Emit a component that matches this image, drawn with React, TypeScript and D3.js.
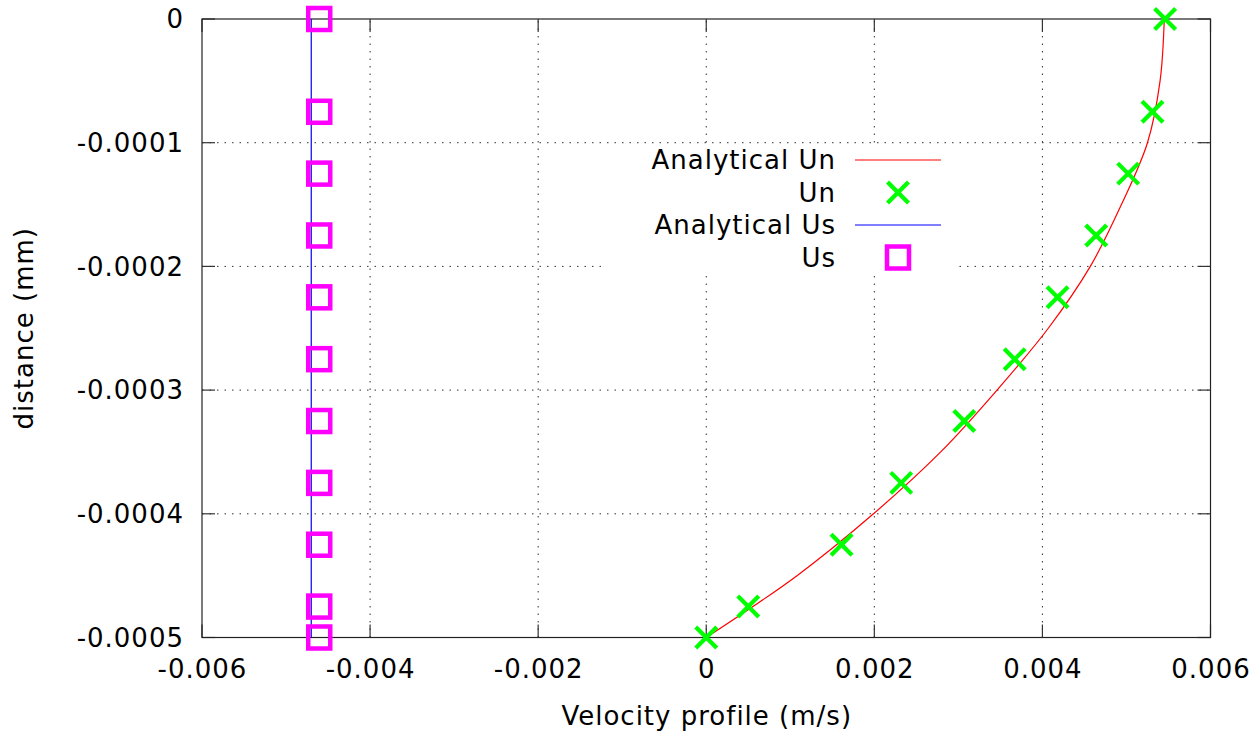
import React from "react";
import * as d3 from "d3";

// ---- data ----
const xTicks = [-0.006, -0.004, -0.002, 0, 0.002, 0.004, 0.006];
const xTickLabels = ["-0.006", "-0.004", "-0.002", "0", "0.002", "0.004", "0.006"];
const yTicks = [0, -0.0001, -0.0002, -0.0003, -0.0004, -0.0005];
const yTickLabels = ["0", "-0.0001", "-0.0002", "-0.0003", "-0.0004", "-0.0005"];

// Analytical Un curve (distance, velocity)
const anUnY = [0, -0.00005, -0.0001, -0.00015, -0.0002, -0.00025, -0.0003, -0.00035, -0.0004, -0.00045, -0.0005];
const anUnX = [0.00545, 0.0054, 0.00525, 0.00494, 0.00457, 0.00407, 0.00346, 0.00279, 0.00199, 0.00108, 0];

// Un points
const unY = [0, -0.000075, -0.000125, -0.000175, -0.000225, -0.000275, -0.000325, -0.000375, -0.000425, -0.000475, -0.0005];
const unX = [0.00546, 0.00531, 0.00502, 0.00464, 0.00418, 0.00367, 0.00307, 0.00232, 0.00161, 0.0005, 0];

// Analytical Us line
const anUsY = [0, -0.0005];
const anUsX = [-0.0047, -0.0047];

// Us points
const usY = [0, -0.000075, -0.000125, -0.000175, -0.000225, -0.000275, -0.000325, -0.000375, -0.000425, -0.000475, -0.0005];
const usX = [-0.004605, -0.004605, -0.004605, -0.004605, -0.004605, -0.004605, -0.004605, -0.004605, -0.004605, -0.004605, -0.004605];

const legendLabels = ["Analytical Un", "Un", "Analytical Us", "Us"];

const W = 1255;
const H = 734;
const left = 202;
const right = 1210.5;
const top = 19;
const bottom = 637.5;
const FONT = "'DejaVu Sans', sans-serif";
const FS = 26;
const LS = 1;

export default function App() {
  const x = d3.scaleLinear().domain([-0.006, 0.006]).range([left, right]);
  const y = d3.scaleLinear().domain([-0.0005, 0]).range([bottom, top]);

  const line = d3
    .line<number>()
    .x((_, i) => x(anUnX[i]))
    .y((_, i) => y(anUnY[i]))
    .curve(d3.curveCatmullRom.alpha(0.5));
  const usLine = d3
    .line<number>()
    .x((_, i) => x(anUsX[i]))
    .y((_, i) => y(anUsY[i]));

  const tick = 13;
  const grid = "#333";
  const dash = "1.5,6";

  // legend
  const legTextX = 836;
  const legSymX0 = 855;
  const legSymX1 = 941;
  const legSymC = 898;
  const legRowY = [160, 192.5, 225, 257.5];

  const cross = (cx: number, cy: number, k: string | number) => {
    const a = 10.5;
    return (
      <g key={k} stroke="#00ff00" strokeWidth={4.2}>
        <line x1={cx - a} y1={cy - a} x2={cx + a} y2={cy + a} />
        <line x1={cx - a} y1={cy + a} x2={cx + a} y2={cy - a} />
      </g>
    );
  };
  const square = (cx: number, cy: number, k: string | number) => {
    const s = 11;
    return (
      <rect key={k} x={cx - s} y={cy - s} width={2 * s} height={2 * s} fill="none" stroke="#ff00ff" strokeWidth={4.5} />
    );
  };

  return (
    <svg width={W} height={H} style={{ position: "absolute", left: 0, top: 0, background: "#fff" }} fontFamily={FONT}>
      <rect x={0} y={0} width={W} height={H} fill="#fff" />
      {/* grid */}
      <g stroke={grid} strokeWidth={1} strokeDasharray={dash}>
        {xTicks.slice(1, -1).map((t, i) => (
          <line key={"gx" + i} x1={x(t)} x2={x(t)} y1={bottom} y2={top} />
        ))}
        {yTicks.slice(1, -1).map((t, i) => (
          <line key={"gy" + i} x1={left} x2={right} y1={y(t)} y2={y(t)} />
        ))}
      </g>
      {/* legend background */}
      <rect x={605} y={145} width={350} height={127} fill="#fff" />
      {/* ticks */}
      <g stroke="#333" strokeWidth={1.2}>
        {xTicks.map((t, i) => (
          <g key={"tx" + i}>
            <line x1={x(t)} x2={x(t)} y1={bottom} y2={bottom - tick} />
            <line x1={x(t)} x2={x(t)} y1={top} y2={top + tick} />
          </g>
        ))}
        {yTicks.map((t, i) => (
          <g key={"ty" + i}>
            <line x1={left} x2={left + tick} y1={y(t)} y2={y(t)} />
            <line x1={right} x2={right - tick} y1={y(t)} y2={y(t)} />
          </g>
        ))}
      </g>
      {/* frame */}
      <rect x={left} y={top} width={right - left} height={bottom - top} fill="none" stroke="#222" strokeWidth={1.2} />
      {/* tick labels */}
      <g fontSize={FS} fill="#000" letterSpacing={LS}>
        {xTicks.map((t, i) => (
          <text key={"lx" + i} x={x(t) + LS / 2} y={678} textAnchor="middle">
            {xTickLabels[i]}
          </text>
        ))}
        {yTicks.map((t, i) => (
          <text key={"ly" + i} x={183 + LS} y={y(t)} dy="0.36em" textAnchor="end">
            {yTickLabels[i]}
          </text>
        ))}
      </g>
      {/* axis titles */}
      <text x={(left + right) / 2 + LS / 2} y={725} fontSize={FS} textAnchor="middle" letterSpacing={LS}>
        Velocity profile (m/s)
      </text>
      <text transform={`translate(33,${(top + bottom) / 2}) rotate(-90)`} fontSize={FS} textAnchor="middle" letterSpacing={LS}>
        distance (mm)
      </text>
      {/* data */}
      <path d={line(anUnX) || ""} fill="none" stroke="#ff0000" strokeWidth={1.2} />
      <path d={usLine(anUsX) || ""} fill="none" stroke="#0000ff" strokeWidth={1.2} />
      {unX.map((v, i) => cross(x(v), y(unY[i]), "u" + i))}
      {usX.map((v, i) => square(x(v), y(usY[i]), "s" + i))}
      {/* legend */}
      <g fontSize={FS} letterSpacing={LS}>
        {legendLabels.map((l, i) => (
          <text key={"lg" + i} x={legTextX} y={legRowY[i]} dy="0.36em" textAnchor="end">
            {l}
          </text>
        ))}
      </g>
      <line x1={legSymX0} x2={legSymX1} y1={legRowY[0]} y2={legRowY[0]} stroke="#ff0000" strokeWidth={1.2} />
      {cross(legSymC, legRowY[1], "lgc")}
      <line x1={legSymX0} x2={legSymX1} y1={legRowY[2]} y2={legRowY[2]} stroke="#0000ff" strokeWidth={1.2} />
      {square(legSymC, legRowY[3], "lgs")}
    </svg>
  );
}
